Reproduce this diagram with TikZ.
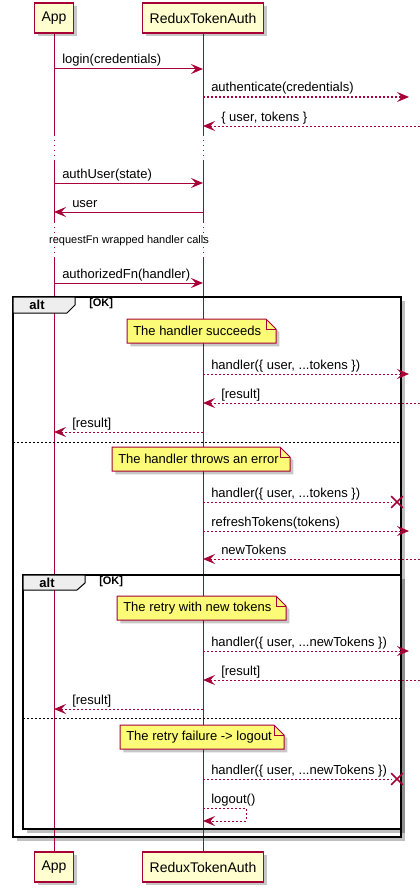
\documentclass[tikz,border=0pt]{standalone}
\usepackage{fontspec}
\setmainfont{Liberation Sans}
\usetikzlibrary{
  arrows.meta,
  backgrounds,
  calc,
  shadows,
  shapes.misc
}
\definecolor{umlred}{HTML}{A80036}
\definecolor{partfill}{HTML}{FEFECE}
\definecolor{notefill}{HTML}{FBFB77}
\definecolor{tabgray}{HTML}{EEEEEE}
\tikzset{
  >={Stealth[length=9pt,width=7.5pt,inset=3.5pt]},
  call/.style={->,draw=umlred,line width=.75pt},
  reply/.style={call,dash pattern=on 1.5pt off 1.5pt},
  lost/.style={draw=umlred,line width=.75pt,dash pattern=on 1.5pt off 1.5pt},
  lostx/.style={cross out,draw=umlred,line width=1.2pt,minimum size=7.5pt,inner sep=0pt},
  lifeline/.style={draw=umlred,line width=.75pt},
  delay/.style={draw=umlred,line width=.75pt,dash pattern=on .75pt off 3pt},
  participant/.style={
    draw=umlred,
    fill=partfill,
    line width=1pt,
    minimum height=22.5pt,
    inner xsep=5.25pt,
    font=\fontsize{10.5pt}{12pt}\selectfont,
    drop shadow={shadow xshift=2.5pt,shadow yshift=-2.5pt,fill=black,opacity=.22}
  },
  msglabel/.style={anchor=base west,inner sep=0pt,font=\fontsize{9.75pt}{11pt}\selectfont},
  delaytext/.style={inner sep=0pt,font=\fontsize{8.25pt}{10pt}\selectfont},
  notebody/.style={draw=umlred,fill=notefill,line width=.75pt},
  noteshadow/.style={drop shadow={shadow xshift=2.5pt,shadow yshift=-2.5pt,fill=black,opacity=.22}},
  notetext/.style={anchor=west,inner sep=0pt,font=\fontsize{9.75pt}{11pt}\selectfont},
  frame/.style={draw=black,line width=1.5pt},
  framefill/.style={fill=white,drop shadow={shadow xshift=3pt,shadow yshift=-3pt,fill=black,opacity=.25}},
  tab/.style={draw=black,fill=tabgray,line width=.75pt},
  tabtitle/.style={inner sep=0pt,font=\fontsize{9.75pt}{11pt}\selectfont\bfseries},
  guard/.style={anchor=west,inner sep=0pt,font=\fontsize{8.25pt}{10pt}\selectfont\bfseries},
  separator/.style={draw=black,line width=.75pt,dash pattern=on 1.5pt off 1.5pt}
}
% message from lifeline #3 to lifeline #4 at height #5
\newcommand{\sendmsg}[6][call]{%
  \draw[#1] (#3 |- 0,#5) -- (#4 |- 0,#5);
  \node[msglabel] (#2) at ($(#3 |- 0,#5)+(8,-5)$) {#6};%
}
\newcommand{\replymsg}[6][reply]{%
  \draw[#1] (#3 |- 0,#5) -- (#4 |- 0,#5);
  \node[msglabel] (#2) at ($(#4 |- 0,#5)+(18,-5)$) {#6};%
}
\newcommand{\lostmsg}[4]{%
  \node[lostx] (#1) at (397,#3) {};
  \draw[lost] (#2 |- #1) -- (#1);
  \node[msglabel] (#1l) at ($(#2 |- #1)+(8,-5)$) {#4};%
}
\newcommand{\notebox}[5]{%
  \filldraw[notebody,noteshadow] (#2,#4-12) -- (#3-10,#4-12) -- (#3,#4-2) -- (#3,#4+12) -- (#2,#4+12) -- cycle;
  \draw[notebody,fill=none] (#3-10,#4-12) -- (#3-10,#4-2) -- (#3,#4-2);
  \node[notetext] (#1) at (#2+6,#4) {#5};%
}

\begin{document}
\begin{tikzpicture}[x=.75pt,y=-.75pt]
  \useasboundingbox (0,0) rectangle (420,892);

  \foreach \p/\name/\x in {app/App/54,auth/ReduxTokenAuth/203} {
    \node[participant] (\p T) at (\x,18) {\name};
    \node[participant] (\p B) at (\x,867) {\name};
  }
  \coordinate (ext) at (409,0);
  \coordinate (edge) at (420,0);

  \begin{scope}[on background layer]
    \fill[framefill] (13,297) rectangle (401,837);
    \fill[framefill] (23,575) rectangle (401,829);
    \foreach \p in {app,auth} {
      \draw[lifeline] (\p T.south) -- (\p T |- 0,135);
      \draw[delay] (\p T |- 0,135) -- (\p T |- 0,160);
      \draw[lifeline] (\p T |- 0,160) -- (\p T |- 0,222);
      \draw[delay] (\p T |- 0,222) -- (\p T |- 0,258);
      \draw[lifeline] (\p T |- 0,258) -- (\p B.north);
    }
  \end{scope}

  \sendmsg{login}{appT}{authT}{69}{login(credentials)}
  \sendmsg[reply]{authn}{authT}{ext}{97}{authenticate(credentials)}
  \replymsg{tokens}{edge}{authT}{126}{\{ user, tokens \}}
  \sendmsg{authuser}{appT}{authT}{183}{authUser(state)}
  \replymsg[call]{user}{authT}{appT}{212}{user}
  \node[delaytext] (wrapped) at (129,241) {requestFn wrapped handler calls};
  \sendmsg{authfn}{appT}{authT}{283}{authorizedFn(handler)}

  % outer alt
  \draw[frame] (13,297) rectangle (401,837);
  \filldraw[tab] (13,297) -- (75,297) -- (75,305) -- (67,313) -- (13,313) -- cycle;
  \node[tabtitle] (alt1) at (37,305) {alt};
  \node[guard] (ok1) at (89,304) {[OK]};
  \notebox{succeeds}{127}{276}{331}{The handler succeeds}
  \sendmsg[reply]{handler1}{authT}{ext}{374}{handler(\{ user, ...tokens \})}
  \replymsg{result1}{edge}{authT}{403}{[result]}
  \replymsg{result2}{authT}{appT}{432}{[result]}
  \draw[separator] (13,442) -- (401,442);
  \notebox{throws}{112}{290}{459}{The handler throws an error}
  \lostmsg{handler2}{authT}{502}{handler(\{ user, ...tokens \})}
  \sendmsg[reply]{refresh}{authT}{ext}{531}{refreshTokens(tokens)}
  \replymsg{newtokens}{edge}{authT}{559}{newTokens}

  % inner alt
  \draw[frame] (23,575) rectangle (401,829);
  \filldraw[tab] (23,575) -- (85,575) -- (85,583) -- (77,590) -- (23,590) -- cycle;
  \node[tabtitle] (alt2) at (47,583) {alt};
  \node[guard] (ok2) at (99,582) {[OK]};
  \notebox{retry}{117}{286}{608}{The retry with new tokens}
  \sendmsg[reply]{handler3}{authT}{ext}{651}{handler(\{ user, ...newTokens \})}
  \replymsg{result3}{edge}{authT}{680}{[result]}
  \replymsg{result4}{authT}{appT}{709}{[result]}
  \draw[separator] (23,718) -- (401,718);
  \notebox{failure}{120}{284}{737}{The retry failure -> logout}
  \lostmsg{handler4}{authT}{779}{handler(\{ user, ...newTokens \})}
  \draw[reply] (authT |- 0,808) -- ++(43,0) -- ++(0,13) -- (authT |- 0,821);
  \node[msglabel] (logout) at ($(authT |- 0,808)+(8,-5)$) {logout()};
\end{tikzpicture}
\end{document}
